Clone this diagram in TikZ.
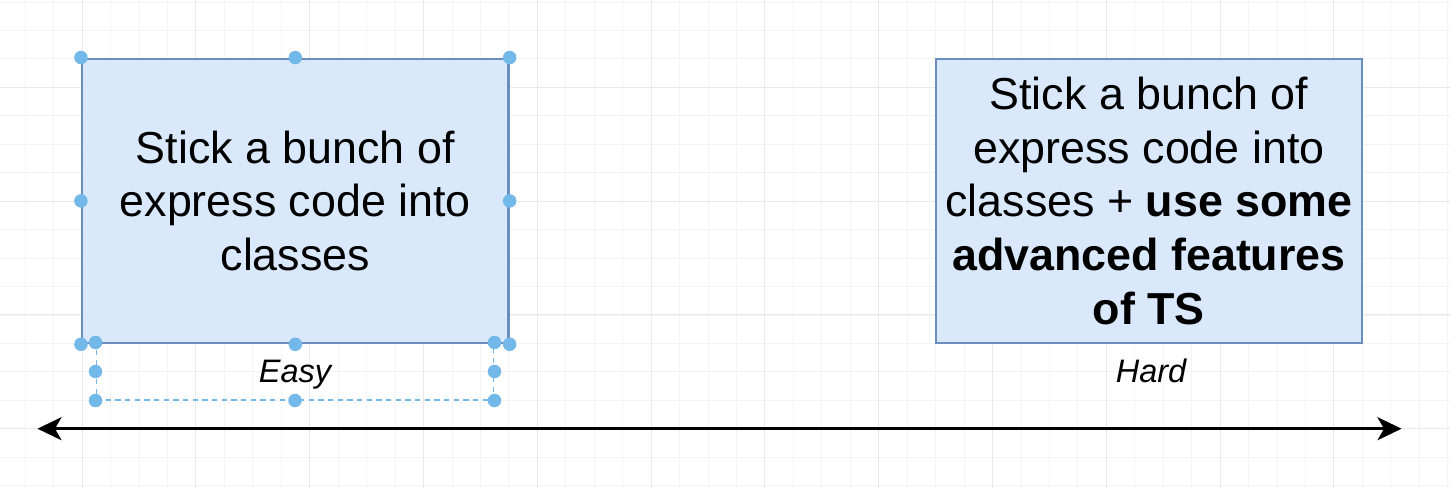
\documentclass[tikz,border=0pt]{standalone}
\usepackage{fontspec}
\setmainfont{Liberation Sans}
\usepackage{xcolor}
\usetikzlibrary{arrows.meta,positioning}
\definecolor{boxfill}{HTML}{DAE8FC}
\definecolor{boxline}{HTML}{6C8EBF}
\definecolor{handleblue}{HTML}{72B9EA}
\definecolor{gridminor}{HTML}{F4F4F4}
\definecolor{gridmajor}{HTML}{E9E9E9}

\begin{document}
\begin{tikzpicture}[x=0.02cm,y=-0.02cm,
  every node/.style={font=\fontsize{25.5}{30.5}\selectfont},
  card/.style={draw=boxline,line width=1.3pt,fill=boxfill,minimum width=8.53cm,minimum height=5.69cm,align=center,inner sep=0pt},
  tag/.style={font=\fontsize{18.5}{22}\selectfont\itshape,minimum width=7.96cm,minimum height=1.14cm,inner sep=0pt,text height=0.6cm,text depth=0.15cm},
  sel/.style={draw=handleblue,dash pattern=on 3pt off 2.5pt,line width=0.6pt},
  handle/.style={fill=handleblue},
  timeline/.style={line width=1.7pt,{Stealth[length=0.48cm,width=0.46cm,inset=0.13cm]}-{Stealth[length=0.48cm,width=0.46cm,inset=0.13cm]}}]
 \useasboundingbox (0,0) rectangle (1450,488);
 \fill[white] (0,0) rectangle (1450,488);
 \foreach \i in {0,...,50}
   \draw[gridminor,line width=0.5pt] ({25.2+\i*28.45},0) -- ({25.2+\i*28.45},488);
 \foreach \i in {0,...,17}
   \draw[gridminor,line width=0.5pt] (0,{2+\i*28.45}) -- (1450,{2+\i*28.45});
 \foreach \i in {0,...,11}
   \draw[gridmajor,line width=0.5pt] ({82.1+\i*113.8},0) -- ({82.1+\i*113.8},488);
 \foreach \i in {0,...,3}
   \draw[gridmajor,line width=0.5pt] (0,{87.3+\i*113.8}) -- (1450,{87.3+\i*113.8});
 \node[tag,sel] (easy) at (295,371.5) {Easy};
 \node[card] (simple) at (295.3,200.9) {Stick a bunch of\\express code into\\classes};
 \node[card] (advanced) at (1148.9,200.9) {Stick a bunch of\\express code into\\classes + \textbf{use some}\\\textbf{advanced features}\\\textbf{of TS}};
 \node[tag] (hard) at (1151,371.5) {Hard};
 \coordinate (lo) at (37.5,428.7);
 \coordinate (hi) at (1401.5,428.7);
 \draw[timeline] (lo) -- (hi);
 \foreach \a in {north west,north,north east,west,east,south west,south,south east}
   \fill[handle] (simple.\a) circle (0.135cm);
 \foreach \a in {north west,north east,west,east,south west,south,south east}
   \fill[handle] (easy.\a) circle (0.135cm);
\end{tikzpicture}
\end{document}
